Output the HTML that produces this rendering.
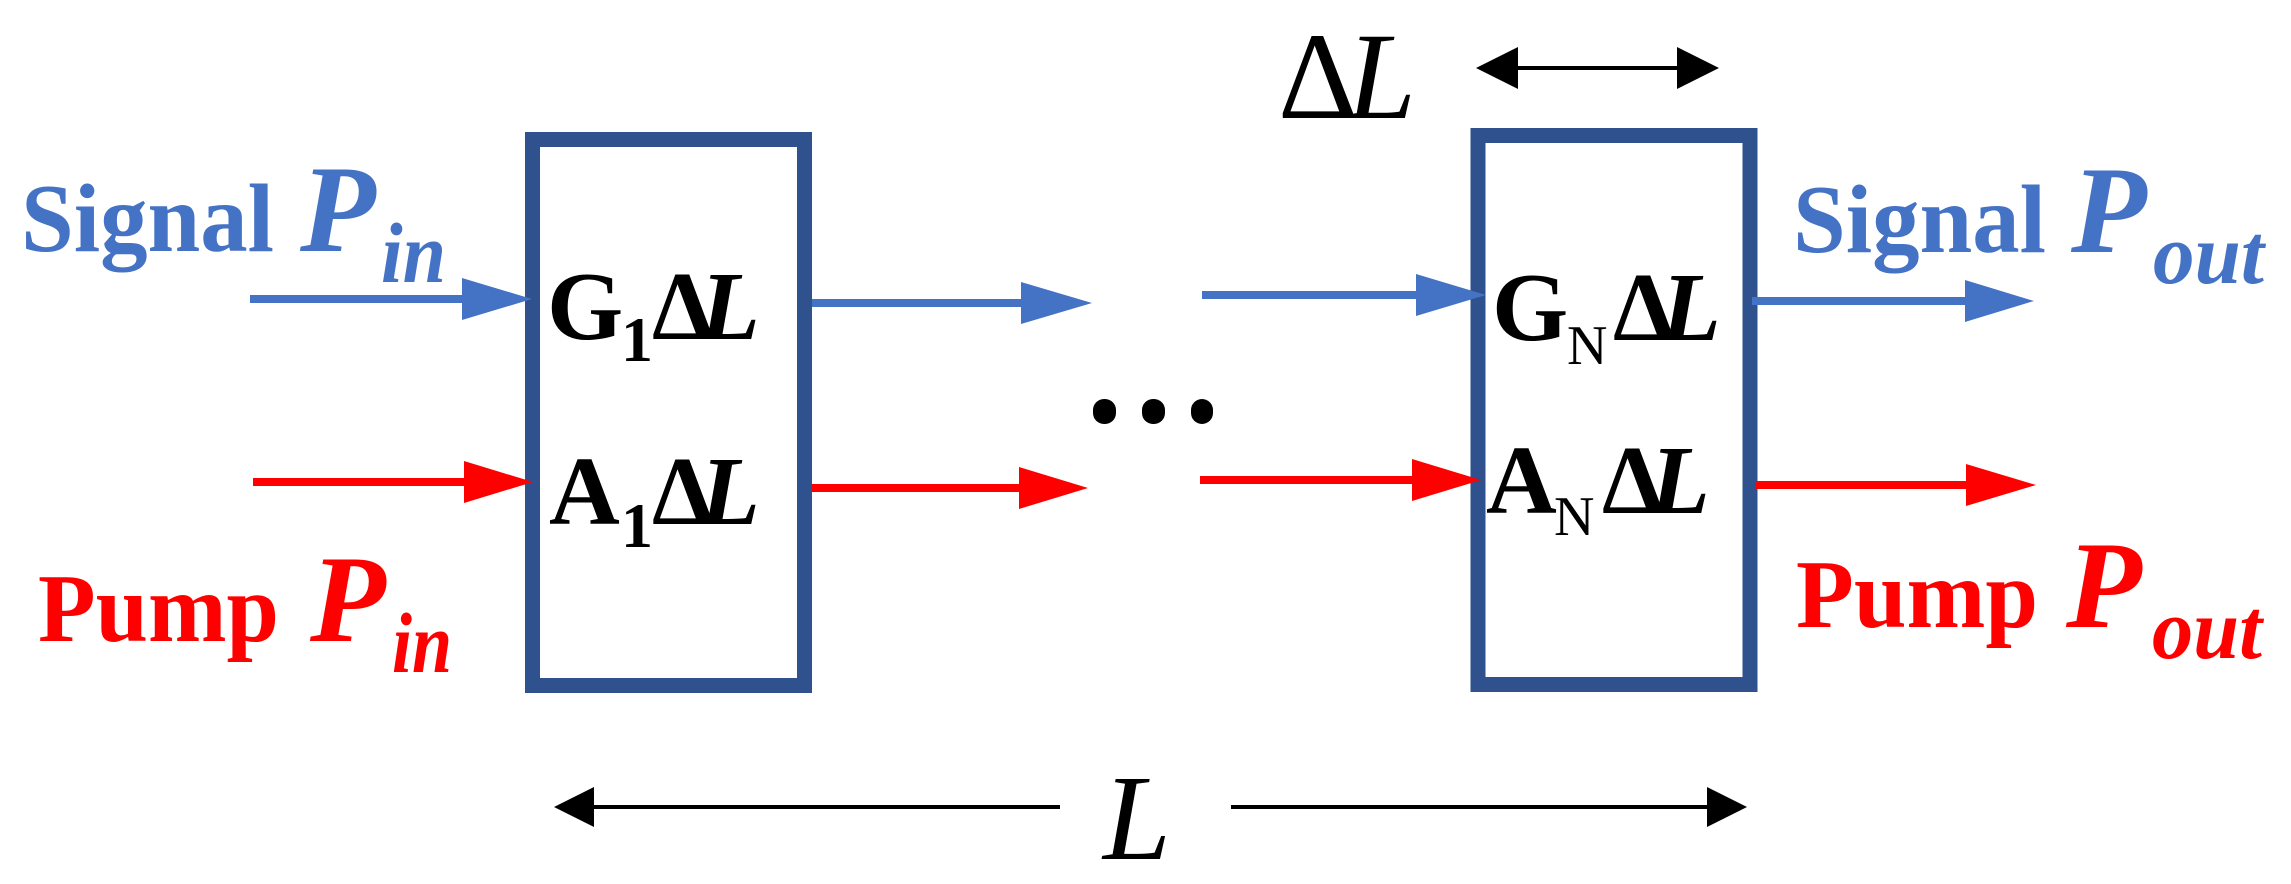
<!DOCTYPE html>
<html><head><meta charset="utf-8"><style>
html,body{margin:0;padding:0;background:#fff;}
svg{display:block;}
text{font-family:"Liberation Serif",serif;}
</style></head><body>
<svg width="2291" height="884" viewBox="0 0 2291 884" xmlns="http://www.w3.org/2000/svg">
<rect width="2291" height="884" fill="#fff"/>
<!-- boxes -->
<rect x="532.5" y="139.5" width="272" height="546" fill="none" stroke="#2f528f" stroke-width="15"/>
<rect x="1478" y="135.5" width="272" height="549" fill="none" stroke="#2f528f" stroke-width="15"/>

<!-- blue arrows -->
<g fill="#4472c4">
<rect x="250" y="295" width="215" height="8"/><polygon points="462,278 532,299 462,320"/>
<rect x="812" y="299" width="212" height="8"/><polygon points="1021,282 1092,303 1021,324"/>
<rect x="1202" y="291" width="218" height="8"/><polygon points="1416,274 1486,295 1416,316"/>
<rect x="1752" y="297" width="216" height="8"/><polygon points="1965,280 2034,301 1965,322"/>
</g>
<!-- red arrows -->
<g fill="#ff0000">
<rect x="253" y="478" width="214" height="8"/><polygon points="464,461 533,482 464,503"/>
<rect x="812" y="484" width="210" height="8"/><polygon points="1019,467 1088,488 1019,509"/>
<rect x="1200" y="476" width="216" height="8"/><polygon points="1412,459 1481,480 1412,501"/>
<rect x="1756" y="481" width="212" height="8"/><polygon points="1966,464 2036,485 1966,506"/>
</g>

<!-- black arrows -->
<g fill="#000">
<rect x="590" y="805" width="470" height="4"/><polygon points="554,807 594,787 594,827"/>
<rect x="1231" y="805" width="480" height="4"/><polygon points="1747,807 1707,787 1707,827"/>
<rect x="1510" y="66" width="180" height="4"/>
<polygon points="1476,68 1518,47 1518,89"/>
<polygon points="1719,68 1677,47 1677,89"/>
<rect x="1093" y="399" width="23" height="25" rx="11" ry="11"/>
<rect x="1142" y="399" width="23" height="25" rx="11" ry="11"/>
<rect x="1191" y="399" width="22" height="25" rx="11" ry="11"/>
</g>

<!-- labels -->
<g font-weight="bold" fill="#4472c4">
<text x="21" y="251" font-size="98" textLength="253" lengthAdjust="spacingAndGlyphs">Signal</text>
<text x="300" y="251" font-size="124" font-style="italic">P</text>
<text x="381" y="282" font-size="86" font-style="italic" textLength="65" lengthAdjust="spacingAndGlyphs">in</text>
<text x="1793" y="252" font-size="98" textLength="253" lengthAdjust="spacingAndGlyphs">Signal</text>
<text x="2071" y="252" font-size="124" font-style="italic">P</text>
<text x="2153" y="283" font-size="86" font-style="italic" textLength="111" lengthAdjust="spacingAndGlyphs">out</text>
</g>
<g font-weight="bold" fill="#ff0000">
<text x="38" y="641" font-size="98" textLength="241" lengthAdjust="spacingAndGlyphs">Pump</text>
<text x="310" y="641" font-size="124" font-style="italic">P</text>
<text x="392" y="672" font-size="86" font-style="italic" textLength="60" lengthAdjust="spacingAndGlyphs">in</text>
<text x="1796" y="627" font-size="98" textLength="242" lengthAdjust="spacingAndGlyphs">Pump</text>
<text x="2066" y="627" font-size="124" font-style="italic">P</text>
<text x="2152" y="658" font-size="86" font-style="italic" textLength="110" lengthAdjust="spacingAndGlyphs">out</text>
</g>

<g fill="#000" font-weight="bold">
<text x="547" y="339" font-size="98">G</text>
<text x="621" y="361" font-size="64">1</text>
<text x="652" y="339" font-size="98">Δ</text>
<text x="700" y="339" font-size="98" font-style="italic">L</text>

<text x="549" y="524" font-size="98">A</text>
<text x="621" y="547" font-size="64">1</text>
<text x="652" y="524" font-size="98">Δ</text>
<text x="700" y="524" font-size="98" font-style="italic">L</text>

<text x="1492" y="340" font-size="98">G</text>
<text x="1567" y="364" font-size="56" font-weight="normal">N</text>
<text x="1613" y="340" font-size="98">Δ</text>
<text x="1661" y="340" font-size="98" font-style="italic">L</text>

<text x="1486" y="513" font-size="98">A</text>
<text x="1554" y="535" font-size="56" font-weight="normal">N</text>
<text x="1602" y="513" font-size="98">Δ</text>
<text x="1650" y="513" font-size="98" font-style="italic">L</text>
</g>
<g fill="#000">
<text x="1278" y="118" font-size="124">Δ</text>
<text x="1347" y="118" font-size="124" font-style="italic">L</text>
<text x="1103" y="859" font-size="122" font-style="italic">L</text>
</g>
</svg>
</body></html>
